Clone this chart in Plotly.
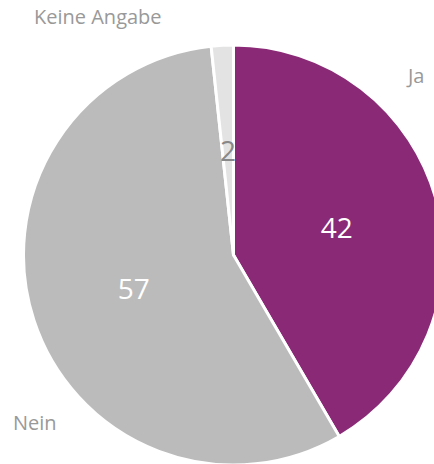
import math
import plotly.graph_objects as go

categories = ["Ja", "Nein", "Keine Angabe"]
values = [41.6, 56.7, 1.7]          # shares in %, shown rounded (42 / 57 / 2)
colors = ["#8A2A76", "#BBBBBB", "#E3E3E3"]
value_text_colors = ["#FFFFFF", "#FFFFFF", "#888888"]

W, H = 444, 466
cx, cy, R = 233.5, 255, 210

# small slice: value drawn as annotation at half radius (as in the reference)
small = [v / sum(values) < 0.05 for v in values]
templates = ["" if s else "%{value:.0f}" for s in small]

fig = go.Figure(go.Pie(
    labels=categories,
    values=values,
    sort=False,
    direction="clockwise",
    rotation=0,
    marker=dict(colors=colors, line=dict(color="#FFFFFF", width=3)),
    texttemplate=templates,
    textposition="inside",
    insidetextorientation="horizontal",
    insidetextfont=dict(family="Open Sans", size=28, color=value_text_colors),
    hoverinfo="label+value",
    showlegend=False,
    domain=dict(x=[(cx - R) / W, (cx + R) / W], y=[(H - cy - R) / H, (H - cy + R) / H]),
))

total = sum(values)
cum = 0
for v, s, col in zip(values, small, value_text_colors):
    if s:
        ang = math.radians(360 * (cum + v / 2) / total)
        px = cx + 0.5 * R * math.sin(ang)
        py = cy - 0.5 * R * math.cos(ang)
        fig.add_annotation(x=px / W, y=1 - py / H, xref="paper", yref="paper",
                           text=f"{v:.0f}", showarrow=False, xanchor="center", yanchor="middle",
                           font=dict(family="Open Sans", size=28, color=col))
    cum += v

label_pos = {"Ja": (415, 76), "Nein": (35, 422), "Keine Angabe": (98, 17)}
for c in categories:
    px, py = label_pos[c]
    fig.add_annotation(x=px / W, y=1 - py / H, xref="paper", yref="paper",
                       text=c, showarrow=False, xanchor="center", yanchor="middle",
                       font=dict(family="Open Sans", size=20, color="#999999"))

fig.update_layout(
    width=W, height=H,
    margin=dict(l=0, r=0, t=0, b=0),
    paper_bgcolor="#FFFFFF",
    plot_bgcolor="#FFFFFF",
    uniformtext=dict(minsize=28, mode="show"),
)

fig.write_html("out.html", config={"displayModeBar": False},
               post_script="document.body.style.margin='0';document.body.style.overflow='hidden';")
